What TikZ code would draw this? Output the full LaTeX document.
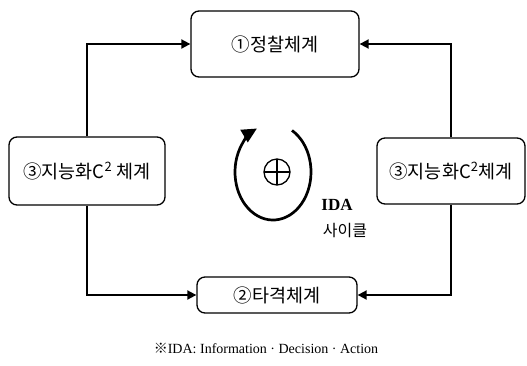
\documentclass[tikz,border=0pt]{standalone}
\usepackage{fontspec}
\setmainfont{Liberation Serif}
\newfontfamily\kr{Noto Sans CJK KR}
\usetikzlibrary{arrows.meta}
\tikzset{
  box/.style={draw, line width=1.3pt, rounded corners=8pt, inner sep=0pt, font=\kr\fontsize{18.5}{20}\selectfont},
  conn/.style={line width=1.8pt, -{Triangle[length=9pt,width=9pt]}},
}
\begin{document}
\begin{tikzpicture}[x=1pt,y=-1pt]
\useasboundingbox (0,0) rectangle (527,365);
\node[box, minimum width=168pt, minimum height=66pt] (top) at (275,44) {①정찰체계};
\node[box, minimum width=156pt, minimum height=68pt] (left) at (87,171) {③지능화C\textsuperscript{2} 체계};
\node[box, minimum width=148pt, minimum height=66pt] (right) at (451,171) {③지능화C\textsuperscript{2}체계};
\node[box, minimum width=160pt, minimum height=36pt] (bot) at (277,295) {②타격체계};
\draw[conn] (left.north) |- (top.west);
\draw[conn] (right.north) |- (top.east);
\draw[conn] (left.south) |- (bot.west);
\draw[conn] (right.south) |- (bot.east);
% cycle
\coordinate (cc) at (273,172);
\draw[line width=2.7pt, -{Triangle[length=15pt,width=14pt]}] ([shift={(60:38pt and 48pt)}]cc) arc[start angle=60, end angle=-245, x radius=38pt, y radius=48pt];
\node[draw, circle, line width=1.3pt, minimum size=26pt, inner sep=0pt,
  path picture={\draw[line width=1.3pt] (path picture bounding box.north) -- (path picture bounding box.south) (path picture bounding box.west) -- (path picture bounding box.east);}] (plus) at (277,172) {};
\node[font=\bfseries\fontsize{17}{18}\selectfont] (ida) at (337,205) {IDA};
\node[font=\kr\fontsize{16}{18}\selectfont] (cyc) at (345,231) {사이클};
\node[font=\fontsize{14}{16}\selectfont] (note) at (266,348) {{\kr ※}IDA: Information · Decision · Action};
\end{tikzpicture}
\end{document}
